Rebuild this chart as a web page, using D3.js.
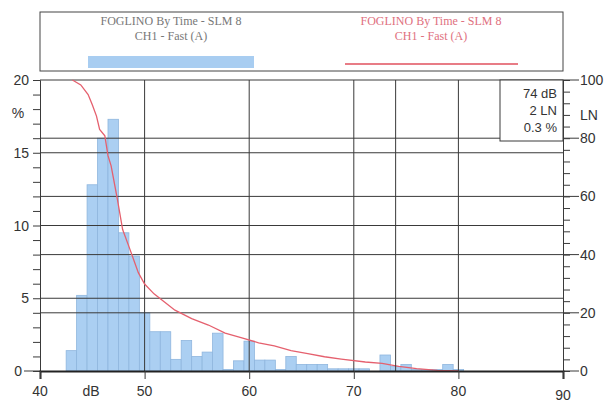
<!DOCTYPE html>
<html>
<head>
<meta charset="utf-8">
<script src="https://cdn.jsdelivr.net/npm/d3@7"></script>
<style>
  body { margin: 0; background: #fff; }
  svg { display: block; }
  .lbl { font-family: "Liberation Sans", Arial, sans-serif; font-size: 14px; fill: #333; }
  .leg { font-family: "Liberation Serif", "Times New Roman", serif; font-size: 12px; }
</style>
</head>
<body>
<svg width="606" height="408"></svg>
<script>
// histogram bins (dB, centre) and % of time
const binDb  = [43, 44, 45, 46, 47, 48, 49, 50, 51, 52, 53, 54, 55, 56, 57, 58, 59, 60, 61, 62,
                63, 64, 65, 66, 67, 68, 69, 70, 71, 72, 73, 74, 75, 76, 77, 78, 79, 80];
const binPct = [1.4, 5.2, 12.8, 16.0, 17.3, 9.5, 7.9, 4.0, 2.7, 2.7, 0.8, 2.1, 1.0, 1.3, 2.6, 0.1, 0.7, 2.05, 0.75, 0.75,
                0.1, 1.0, 0.45, 0.45, 0.45, 0.15, 0.15, 0.15, 0.15, 0, 1.1, 0.3, 0.45, 0.1, 0.1, 0.1, 0.45, 0.1];

// cumulative LN curve
const lnDb  = [43.1, 43.9, 44.6, 45.0, 45.4, 45.7, 46.2, 46.5, 46.8, 47.4, 47.9, 48.6, 49.4, 50.0, 50.9, 51.9,
               52.9, 54.5, 56.1, 57.7, 59.3, 60.9, 62.4, 64.0, 65.6, 67.2, 68.8, 71.1, 72.7, 74.3, 76.0, 78.0, 80.0];
const lnVal = [100, 98.3, 95, 91.5, 87.6, 83, 80.8, 74, 70.5, 59, 48.6, 41.8, 33.8, 29.9, 26.5, 23.7,
               20.9, 18, 15.8, 13, 11.4, 9.7, 8.6, 7, 6, 4.9, 4.1, 3.1, 2.6, 1.6, 0.8, 0.2, 0];

const xTicks = [40, 50, 60, 70, 80, 90];
const leftTicks = [0, 5, 10, 15, 20];
const rightTicks = [0, 20, 40, 60, 80, 100];

const cursorDb = 74;
const readout = ["74 dB", "2 LN", "0.3 %"];
const legendTitle = "FOGLINO By Time - SLM 8";
const legendSub = "CH1 - Fast (A)";

const svg = d3.select("svg");
const L = 40, R = 563, T = 80, B = 371;

const x = d3.scaleLinear().domain([40, 90]).range([L, R]);
const yPct = d3.scaleLinear().domain([0, 20]).range([B, T]);
const yLn = d3.scaleLinear().domain([0, 100]).range([B, T]);

const gridCol = "#3a3a3a";

// legend box
svg.append("rect").attr("x", L).attr("y", 12).attr("width", R - L).attr("height", 59)
  .attr("fill", "none").attr("stroke", "#444").attr("stroke-width", 1);
svg.append("text").attr("class", "leg").attr("x", 171).attr("y", 25).attr("text-anchor", "middle")
  .attr("fill", "#777").text(legendTitle);
svg.append("text").attr("class", "leg").attr("x", 171).attr("y", 40).attr("text-anchor", "middle")
  .attr("fill", "#777").text(legendSub);
svg.append("rect").attr("x", 88).attr("y", 56).attr("width", 166).attr("height", 12).attr("fill", "#a8cdf1");
svg.append("text").attr("class", "leg").attr("x", 431).attr("y", 25).attr("text-anchor", "middle")
  .attr("fill", "#e0707e").text(legendTitle);
svg.append("text").attr("class", "leg").attr("x", 431).attr("y", 40).attr("text-anchor", "middle")
  .attr("fill", "#e0707e").text(legendSub);
svg.append("line").attr("x1", 345).attr("x2", 518).attr("y1", 64).attr("y2", 64)
  .attr("stroke", "#e0505e").attr("stroke-width", 1.3);

// bars
const bw = x(1) - x(0);
svg.append("g").selectAll("rect").data(binDb).join("rect")
  .attr("x", (d) => x(d) - bw / 2)
  .attr("y", (d, i) => yPct(binPct[i]))
  .attr("width", bw)
  .attr("height", (d, i) => B - yPct(binPct[i]))
  .attr("fill", "#abcff2")
  .attr("stroke", "#8fb6de")
  .attr("stroke-width", 0.8);

// horizontal grid: left majors and right majors
const hg = svg.append("g").attr("stroke", gridCol).attr("stroke-width", 1);
leftTicks.filter((v) => v > 0 && v < 20).forEach((v) => {
  hg.append("line").attr("x1", L).attr("x2", R).attr("y1", yPct(v)).attr("y2", yPct(v));
});
rightTicks.filter((v) => v > 0 && v < 100).forEach((v) => {
  hg.append("line").attr("x1", L).attr("x2", R).attr("y1", yLn(v)).attr("y2", yLn(v));
});
// vertical grid
xTicks.filter((v) => v > 40 && v < 90).forEach((v) => {
  hg.append("line").attr("x1", x(v)).attr("x2", x(v)).attr("y1", T).attr("y2", B);
});
// top frame
hg.append("line").attr("x1", L).attr("x2", R).attr("y1", T).attr("y2", T);

// LN curve
const line = d3.line().x((d) => x(d[0])).y((d) => yLn(d[1]));
svg.append("path").datum(lnDb.map((d, i) => [d, lnVal[i]]))
  .attr("d", line).attr("fill", "none").attr("stroke", "#e5606e").attr("stroke-width", 1.3);

// cursor and readout
svg.append("line").attr("x1", x(cursorDb)).attr("x2", x(cursorDb)).attr("y1", T).attr("y2", B)
  .attr("stroke", gridCol).attr("stroke-width", 1);
svg.append("rect").attr("x", 500).attr("y", T).attr("width", R - 500).attr("height", 61)
  .attr("fill", "#fff").attr("stroke", gridCol).attr("stroke-width", 1);
const rCol = ["#222", "#e0707e", "#777"];
readout.forEach((t, i) => {
  svg.append("text").attr("class", "lbl").attr("x", 557).attr("y", 98 + i * 17)
    .attr("text-anchor", "end").attr("fill", rCol[i]).style("font-size", "13px").text(t);
});

// left axis
const leftAxis = d3.axisLeft(yPct).tickValues(d3.range(0, 21, 1)).tickSize(7).tickFormat("");
svg.append("g").attr("transform", `translate(${L},0)`).call(leftAxis)
  .call((g) => g.select(".domain").attr("stroke", gridCol))
  .call((g) => g.selectAll(".tick line").attr("stroke", gridCol));
leftTicks.forEach((v) => {
  svg.append("text").attr("class", "lbl").attr("x", v === 0 ? 22 : 29).attr("y", yPct(v) + 5)
    .attr("text-anchor", "end").text(v);
});
svg.append("line").attr("x1", 24).attr("x2", L).attr("y1", B).attr("y2", B).attr("stroke", gridCol);
svg.append("text").attr("class", "lbl").attr("x", 18).attr("y", 118).attr("text-anchor", "middle").text("%");

// right axis
const rightAxis = d3.axisRight(yLn).tickValues(d3.range(0, 101, 4)).tickSize(7).tickFormat("");
svg.append("g").attr("transform", `translate(${R},0)`).call(rightAxis)
  .call((g) => g.select(".domain").attr("stroke", gridCol))
  .call((g) => g.selectAll(".tick line").attr("stroke", gridCol));
rightTicks.forEach((v) => {
  svg.append("line").attr("x1", R).attr("x2", R + 16).attr("y1", yLn(v)).attr("y2", yLn(v)).attr("stroke", gridCol);
  svg.append("text").attr("class", "lbl").attr("x", R + 17).attr("y", yLn(v) + 5).text(v);
});
svg.append("text").attr("class", "lbl").attr("x", 589).attr("y", 120).attr("text-anchor", "middle").text("LN");

// bottom axis
const bottomAxis = d3.axisBottom(x).tickValues(xTicks).tickSize(8).tickFormat("");
svg.append("g").attr("transform", `translate(0,${B})`).call(bottomAxis)
  .call((g) => g.select(".domain").attr("stroke", "#222").attr("stroke-width", 2))
  .call((g) => g.selectAll(".tick line").attr("stroke", gridCol));
xTicks.forEach((v) => {
  svg.append("text").attr("class", "lbl").attr("x", x(v)).attr("y", v === 90 ? 400 : 396)
    .attr("text-anchor", "middle").text(v);
});
svg.append("text").attr("class", "lbl").attr("x", 91).attr("y", 396).attr("text-anchor", "middle").text("dB");
</script>
</body>
</html>
